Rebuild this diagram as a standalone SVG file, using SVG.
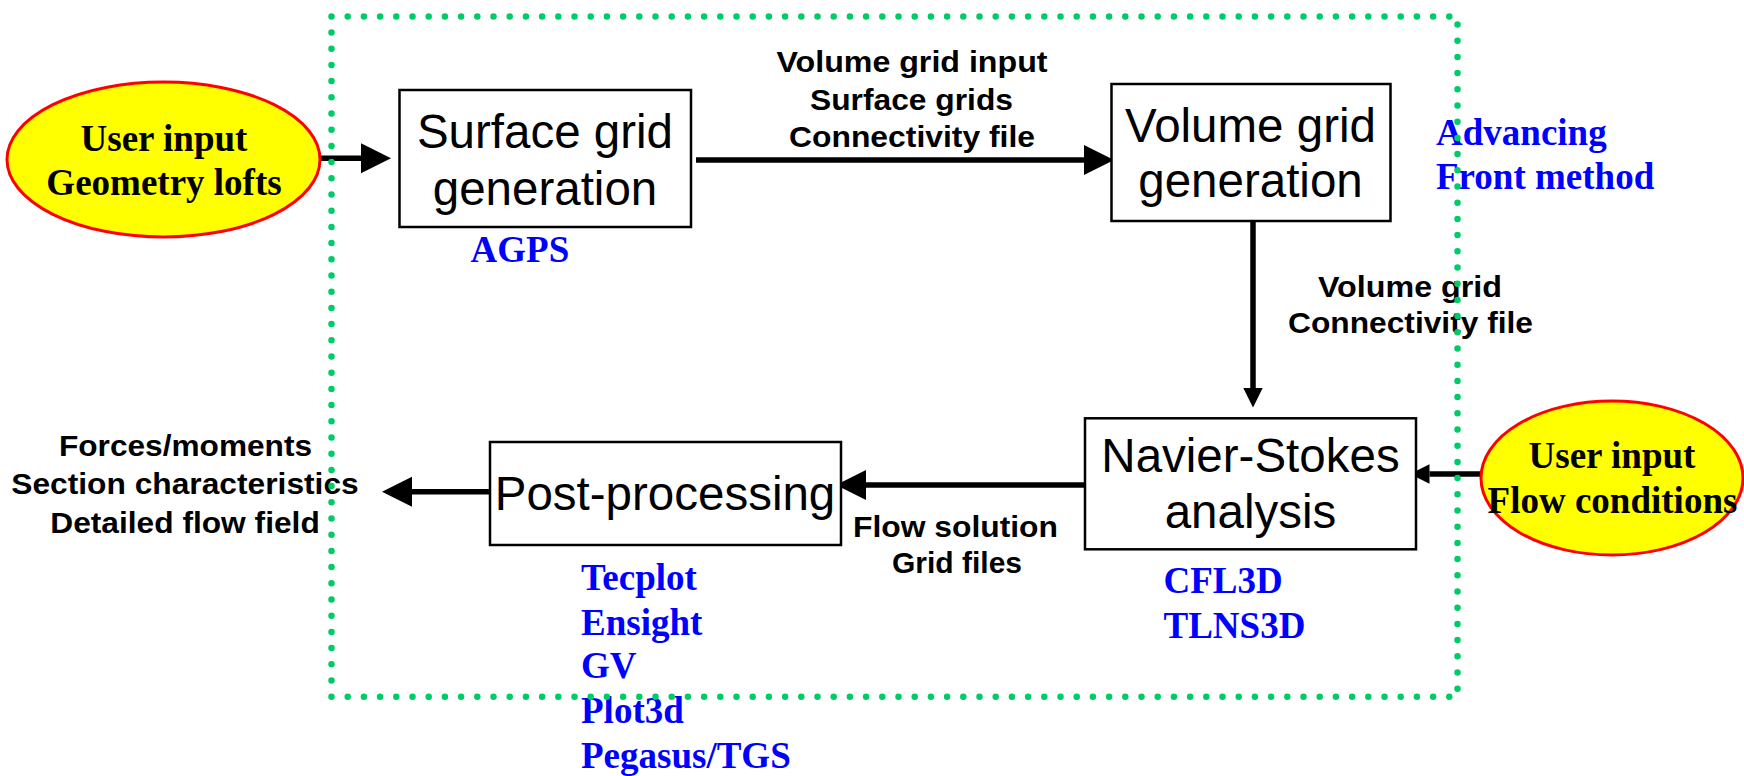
<svg xmlns="http://www.w3.org/2000/svg" width="1744" height="776" viewBox="0 0 1744 776">
<defs>
<style>
.box{fill:#fff;stroke:#000;stroke-width:2.5}
.oval{fill:#ffff00;stroke:#ff0000;stroke-width:3}
.bt{font-family:"Liberation Sans",Arial,sans-serif;font-size:47.5px;fill:#000;text-anchor:middle}
.lbl{font-family:"Liberation Sans",Arial,sans-serif;font-size:30px;font-weight:bold;fill:#000;text-anchor:middle}
.tb{font-family:"Liberation Serif","Times New Roman",serif;font-size:37px;font-weight:bold;fill:#000;text-anchor:middle}
.tool{font-family:"Liberation Serif","Times New Roman",serif;font-size:37px;font-weight:bold;fill:#0000ff}
.conn{stroke:#000;stroke-width:5.5;fill:none}
.frame{fill:none;stroke:#00cc66;stroke-width:6.5;stroke-linecap:round;stroke-dasharray:0 16.2}
</style>
<marker id="big" markerUnits="userSpaceOnUse" markerWidth="30" markerHeight="30" viewBox="0 -15 30 30" refX="0" refY="0" orient="auto" overflow="visible">
<path d="M0,-15 L30,0 L0,15 z" fill="#000"/>
</marker>
<marker id="small" markerUnits="userSpaceOnUse" markerWidth="20" markerHeight="20" viewBox="0 -10 20 20" refX="0" refY="0" orient="auto" overflow="visible">
<path d="M0,-9.7 L19.5,0 L0,9.7 z" fill="#000"/>
</marker>
</defs>
<rect width="1744" height="776" fill="#fff"/>

<g id="connectors">
<line class="conn" x1="320" y1="158.3" x2="361" y2="158.3" marker-end="url(#big)"/>
<line class="conn" x1="696" y1="160" x2="1084" y2="160" marker-end="url(#big)"/>
<line class="conn" x1="1253" y1="221" x2="1253" y2="388" marker-end="url(#small)"/>
<line class="conn" x1="1503" y1="474" x2="1429.5" y2="474" marker-end="url(#small)"/>
<line class="conn" x1="1085" y1="485" x2="866" y2="485" marker-end="url(#big)"/>
<line class="conn" x1="490" y1="491.7" x2="412" y2="491.7" marker-end="url(#big)"/>
</g>

<g id="connector-labels">
<text class="lbl"><tspan x="912" y="71.7" textLength="271" lengthAdjust="spacingAndGlyphs">Volume grid input</tspan><tspan x="911.5" y="109.5" textLength="203" lengthAdjust="spacingAndGlyphs">Surface grids</tspan><tspan x="912" y="147.3" textLength="246" lengthAdjust="spacingAndGlyphs">Connectivity file</tspan></text>
<text class="lbl"><tspan x="1410" y="296.7" textLength="184" lengthAdjust="spacingAndGlyphs">Volume grid</tspan><tspan x="1410.5" y="333.3" textLength="245" lengthAdjust="spacingAndGlyphs">Connectivity file</tspan></text>
<text class="lbl"><tspan x="955.5" y="536.7" textLength="205" lengthAdjust="spacingAndGlyphs">Flow solution</tspan><tspan x="957" y="573" textLength="130" lengthAdjust="spacingAndGlyphs">Grid files</tspan></text>
<text class="lbl"><tspan x="185.5" y="456" textLength="253" lengthAdjust="spacingAndGlyphs">Forces/moments</tspan><tspan x="185" y="494.3" textLength="347.5" lengthAdjust="spacingAndGlyphs">Section characteristics</tspan><tspan x="185" y="532.7" textLength="269.5" lengthAdjust="spacingAndGlyphs">Detailed flow field</tspan></text>
</g>

<g id="user-input-geometry">
<ellipse class="oval" cx="163.5" cy="159.5" rx="156.5" ry="77.5"/>
<text class="tb"><tspan x="164" y="150.7">User input</tspan><tspan x="164" y="195">Geometry lofts</tspan></text>
</g>

<g id="surface-grid">
<rect class="box" x="399.5" y="90" width="291.5" height="137"/>
<text class="bt"><tspan x="545" y="148">Surface grid</tspan><tspan x="545" y="205">generation</tspan></text>
<text class="tool" x="470.6" y="262">AGPS</text>
</g>

<g id="volume-grid">
<rect class="box" x="1111.5" y="84" width="279" height="137"/>
<text class="bt"><tspan x="1250.5" y="141.7">Volume grid</tspan><tspan x="1250.5" y="197">generation</tspan></text>
<text class="tool"><tspan x="1436" y="145">Advancing</tspan><tspan x="1436" y="189">Front method</tspan></text>
</g>

<g id="navier-stokes">
<rect class="box" x="1085" y="418.3" width="331" height="131"/>
<text class="bt"><tspan x="1250.5" y="471.7">Navier-Stokes</tspan><tspan x="1250.5" y="528">analysis</tspan></text>
<text class="tool"><tspan x="1163.5" y="593">CFL3D</tspan><tspan x="1163.5" y="638">TLNS3D</tspan></text>
</g>

<g id="user-input-flow">
<ellipse class="oval" cx="1612" cy="478" rx="131" ry="77"/>
<text class="tb"><tspan x="1612" y="468">User input</tspan><tspan x="1612.5" y="513">Flow conditions</tspan></text>
</g>

<g id="post-processing">
<rect class="box" x="490" y="442" width="351" height="103"/>
<text class="bt" x="665" y="510">Post-processing</text>
<text class="tool"><tspan x="581" y="590">Tecplot</tspan><tspan x="581" y="635">Ensight</tspan><tspan x="581" y="678">GV</tspan><tspan x="581" y="723">Plot3d</tspan><tspan x="581" y="768">Pegasus/TGS</tspan></text>
</g>

<g id="frame">
<rect class="frame" x="331.5" y="16.5" width="1126" height="680.2"/>
</g>
</svg>
